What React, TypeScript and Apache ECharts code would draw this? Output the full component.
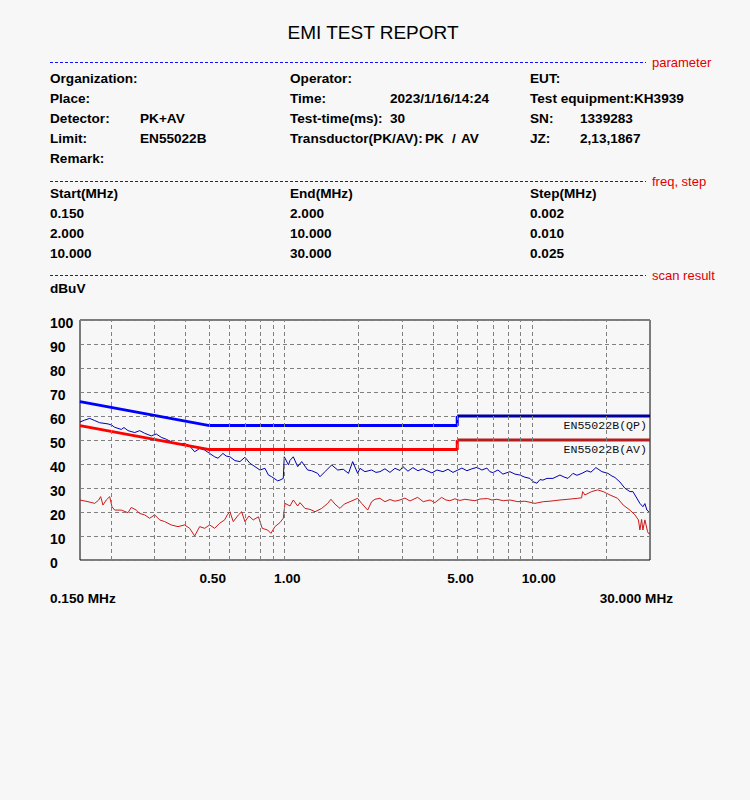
import React, { useEffect, useRef } from "react";
import * as echarts from "echarts";

// ---- data (frequency in MHz, level in dBuV) ----
const pkTrace: [number, number][] = [
  [0.15, 57.5], [0.1567, 58.3], [0.1642, 59.0], [0.172, 58.1], [0.1801, 57.2], [0.1946, 56.7], [0.2014, 56.2],
  [0.2071, 55.3], [0.2202, 54.4], [0.2258, 55.2], [0.2343, 53.9], [0.2494, 53.1], [0.2612, 53.9], [0.2736, 52.8],
  [0.2909, 51.7], [0.3048, 52.5], [0.3193, 51.1], [0.3345, 50.3], [0.3559, 48.9], [0.3729, 48.3], [0.3968, 48.6],
  [0.4157, 47.5], [0.4355, 45.1], [0.4562, 46.5], [0.4779, 45.8], [0.5006, 44.4], [0.5244, 43.0], [0.5408, 42.4],
  [0.5664, 44.4], [0.5841, 43.3], [0.6045, 43.0], [0.6332, 41.4], [0.6633, 41.0], [0.6949, 42.8], [0.7279, 40.3],
  [0.7626, 38.9], [0.7988, 37.5], [0.8368, 38.2], [0.8645, 35.4], [0.8905, 34.7], [0.9416, 33.0], [0.9625, 33.3],
  [0.9925, 34.0], [1.0018, 43.0], [1.0417, 39.6], [1.0563, 41.5], [1.0893, 43.0], [1.1347, 38.9], [1.1775, 41.0],
  [1.2451, 37.5], [1.2922, 37.2], [1.3664, 36.1], [1.3959, 34.7], [1.4624, 36.8], [1.5562, 39.6], [1.6455, 37.5],
  [1.7334, 37.8], [1.8192, 36.1], [1.8915, 41.0], [1.9815, 36.1], [2.0242, 38.2], [2.1206, 36.8], [2.2566, 37.5],
  [2.3488, 36.5], [2.4376, 36.8], [2.5536, 38.0], [2.6749, 36.5], [2.8022, 38.2], [2.9354, 37.3], [3.0185, 38.9],
  [3.1623, 37.0], [3.3124, 38.5], [3.4702, 37.2], [3.6349, 38.0], [3.7728, 37.2], [3.9518, 36.3], [4.14, 37.5],
  [4.3772, 36.8], [4.5857, 37.8], [4.8033, 36.5], [5.0322, 37.5], [5.2221, 38.3], [5.4709, 37.2], [5.7307, 38.0],
  [6.0037, 38.6], [6.2886, 37.5], [6.5881, 38.3], [6.7737, 36.8], [6.9654, 36.4], [7.2973, 37.5], [7.6436, 35.8],
  [8.1569, 36.8], [8.5452, 35.8], [8.9511, 35.4], [9.3772, 34.5], [9.8293, 34.0], [10.107, 32.6], [10.491, 32.0],
  [10.785, 33.5], [11.09, 33.3], [11.511, 34.0], [12.17, 34.0], [12.988, 35.4], [13.48, 34.6], [13.992, 34.0],
  [14.656, 36.1], [15.212, 35.3], [15.934, 36.1], [16.693, 37.2], [17.323, 36.6], [18.148, 38.5], [19.188, 36.8],
  [20.29, 36.1], [21.056, 35.0], [21.652, 34.4], [22.68, 32.5], [23.76, 29.9], [24.889, 28.5], [25.593, 28.5],
  [26.074, 27.1], [26.813, 25.0], [27.312, 23.6], [28.085, 22.2], [28.612, 23.5], [29.15, 20.8], [29.696, 20.1],
];

const avTrace: [number, number][] = [
  [0.15, 25.0], [0.1616, 24.3], [0.172, 23.6], [0.1785, 25.0], [0.1818, 26.4], [0.1857, 22.9], [0.1915, 25.0],
  [0.1977, 26.4], [0.2019, 22.2], [0.2071, 20.8], [0.2202, 20.8], [0.2343, 19.7], [0.2416, 21.9], [0.2531, 20.8],
  [0.2612, 19.4], [0.2736, 18.8], [0.2866, 17.4], [0.3003, 18.8], [0.3146, 16.7], [0.3295, 16.0], [0.3504, 14.6],
  [0.3729, 13.9], [0.3968, 14.6], [0.4157, 13.2], [0.4355, 10.0], [0.4562, 13.9], [0.4779, 13.2], [0.5006, 14.6],
  [0.5244, 13.2], [0.5494, 15.3], [0.5755, 16.7], [0.5896, 18.8], [0.6045, 20.1], [0.6233, 16.0], [0.6542, 18.8],
  [0.6739, 20.1], [0.6949, 16.0], [0.7212, 18.3], [0.7506, 16.7], [0.7878, 18.0], [0.8161, 13.2], [0.8581, 12.5],
  [0.8848, 11.1], [0.9183, 13.9], [0.9625, 15.6], [0.9925, 17.4], [1.0083, 23.6], [1.0563, 22.5], [1.0893, 25.0],
  [1.1347, 22.5], [1.1591, 23.9], [1.2143, 21.5], [1.272, 21.1], [1.3325, 20.1], [1.4181, 21.5], [1.4995, 23.6],
  [1.5461, 25.3], [1.6047, 23.3], [1.6809, 21.5], [1.7495, 23.3], [1.8446, 24.3], [1.9815, 25.7], [2.0564, 23.6],
  [2.1744, 20.8], [2.2566, 24.3], [2.327, 25.3], [2.4376, 25.7], [2.5536, 24.3], [2.6749, 25.2], [2.8022, 24.5],
  [2.9354, 25.0], [3.0751, 25.8], [3.2212, 24.6], [3.4602, 26.1], [3.6452, 24.3], [3.879, 25.0], [4.0636, 23.9],
  [4.3244, 26.1], [4.501, 25.0], [4.6711, 24.7], [4.8934, 25.5], [5.1259, 24.8], [5.3699, 25.3], [5.6251, 25.0],
  [5.8929, 24.7], [6.1727, 25.4], [6.6307, 25.6], [6.9008, 25.0], [7.2296, 25.3], [7.6651, 24.7], [8.1569, 25.0],
  [8.7874, 24.3], [9.3772, 24.5], [10.297, 23.6], [11.121, 24.3], [11.835, 24.5], [12.988, 25.0], [13.992, 25.3],
  [15.311, 25.7], [15.889, 25.9], [16.037, 28.5], [16.385, 27.1], [17.436, 28.5], [18.437, 29.2], [19.422, 28.5],
  [20.668, 27.1], [22.202, 25.7], [23.388, 22.9], [24.889, 20.8], [26.074, 18.8], [26.937, 16.7], [27.312, 12.5],
  [27.746, 16.9], [28.085, 12.5], [28.612, 16.7], [29.339, 11.8], [29.56, 11.1], [30.0, 11.0],
];

const qpLimitLow: [number, number][] = [[0.15, 66], [0.5, 56], [5, 56], [5, 60]];
const qpLimitHigh: [number, number][] = [[5, 60], [30, 60]];
const avLimitLow: [number, number][] = [[0.15, 56], [0.5, 46], [5, 46], [5, 50]];
const avLimitHigh: [number, number][] = [[5, 50], [30, 50]];

const gridFreqs = [0.2, 0.3, 0.4, 0.5, 0.6, 0.7, 0.8, 0.9, 1, 2, 3, 4, 5, 6, 7, 8, 9, 10, 20];
const xLabelFreqs = [0.5, 1, 5, 10];
const xLabelTexts = ["0.50", "1.00", "5.00", "10.00"];
const freqMin = 0.15;
const freqMax = 30;
const levelMin = 0;
const levelMax = 100;
const levelStep = 10;

const SANS = '"Liberation Sans", Arial, sans-serif';
const MONO = '"Liberation Mono", "Courier New", monospace';

function txt(x: number, y: number, text: string, font: string, fill = "#000", align = "left") {
  return {
    type: "text",
    x,
    y,
    silent: true,
    style: {
      text,
      font,
      fill,
      align,
      textAlign: align,
      verticalAlign: "middle",
      textVerticalAlign: "middle",
    },
  };
}

function dash(y: number) {
  return {
    type: "line",
    silent: true,
    shape: { x1: 50, y1: y + 0.5, x2: 646, y2: y + 0.5 },
    style: { stroke: "#1010ff", lineWidth: 1, lineDash: [3, 2] },
  };
}

export default function App() {
  const ref = useRef<HTMLDivElement>(null);

  useEffect(() => {
    if (!ref.current) return;
    const chart = echarts.init(ref.current, null, { renderer: "svg" });
    const B14 = `bold 13.6px ${SANS}`;

    chart.setOption({
      animation: false,
      backgroundColor: "#f7f7f7",
      grid: {
        left: 80,
        top: 320,
        width: 570,
        height: 240,
        show: true,
        borderColor: "#000",
        borderWidth: 1,
        backgroundColor: "transparent",
      },
      xAxis: {
        type: "log",
        logBase: 10,
        min: freqMin,
        max: freqMax,
        axisLine: { show: false },
        axisTick: { show: false },
        axisLabel: { show: false },
        splitLine: { show: false },
      },
      yAxis: {
        type: "value",
        min: levelMin,
        max: levelMax,
        interval: levelStep,
        axisLine: { show: false },
        axisTick: { show: false },
        axisLabel: {
          align: "left",
          verticalAlign: "top",
          margin: 30,
          color: "#000",
          fontFamily: SANS,
          fontWeight: "bold",
          fontSize: 14,
          lineHeight: 6,
          padding: [0, 0, 0, 0],
        },
        splitLine: { show: true, lineStyle: { color: "#808080", width: 1, type: [4, 3] } },
      },
      series: [
        {
          type: "line",
          data: [],
          z: 1,
          silent: true,
          markLine: {
            silent: true,
            symbol: ["none", "none"],
            label: { show: false },
            lineStyle: { color: "#808080", width: 1, type: [4, 3] },
            emphasis: { disabled: true },
            data: gridFreqs.map((f) => ({ xAxis: f })),
          },
        },
        {
          type: "line",
          data: avTrace,
          symbol: "none",
          silent: true,
          z: 3,
          lineStyle: { color: "#cc1a1a", width: 1 },
        },
        {
          type: "line",
          data: pkTrace,
          symbol: "none",
          silent: true,
          z: 3,
          lineStyle: { color: "#0000b4", width: 1 },
        },
        { type: "line", data: qpLimitLow, symbol: "none", silent: true, z: 4, lineStyle: { color: "#0000ff", width: 3 } },
        { type: "line", data: qpLimitHigh, symbol: "none", silent: true, z: 4, lineStyle: { color: "#00009c", width: 3 } },
        { type: "line", data: avLimitLow, symbol: "none", silent: true, z: 4, lineStyle: { color: "#ff0000", width: 3 } },
        { type: "line", data: avLimitHigh, symbol: "none", silent: true, z: 4, lineStyle: { color: "#b41e1e", width: 3 } },
      ],
    });

    const toPx = (f: number, v: number) => chart.convertToPixel({ gridIndex: 0 }, [f, v]) as number[];
    const RED = `13px ${SANS}`;

    const graphics: any[] = [
      txt(373, 32, "EMI TEST REPORT", `19px ${SANS}`, "#000", "center"),
      dash(62),
      txt(652, 62, "parameter", RED, "#e00000"),
      txt(50, 78, "Organization:", B14),
      txt(290, 78, "Operator:", B14),
      txt(530, 78, "EUT:", B14),
      txt(50, 98, "Place:", B14),
      txt(290, 98, "Time:", B14),
      txt(390, 98, "2023/1/16/14:24", B14),
      txt(530, 98, "Test equipment:KH3939", B14),
      txt(50, 118, "Detector:", B14),
      txt(140, 118, "PK+AV", B14),
      txt(290, 118, "Test-time(ms):", B14),
      txt(390, 118, "30", B14),
      txt(530, 118, "SN:", B14),
      txt(580, 118, "1339283", B14),
      txt(50, 138, "Limit:", B14),
      txt(140, 138, "EN55022B", B14),
      txt(290, 138, "Transductor(PK/AV):", B14),
      txt(425, 138, "PK", B14),
      txt(452, 138, "/", B14),
      txt(461, 138, "AV", B14),
      txt(530, 138, "JZ:", B14),
      txt(580, 138, "2,13,1867", B14),
      txt(50, 158, "Remark:", B14),
      dash(181),
      txt(652, 181, "freq, step", RED, "#e00000"),
      txt(50, 193, "Start(MHz)", B14),
      txt(290, 193, "End(MHz)", B14),
      txt(530, 193, "Step(MHz)", B14),
      txt(50, 213, "0.150", B14),
      txt(290, 213, "2.000", B14),
      txt(530, 213, "0.002", B14),
      txt(50, 233, "2.000", B14),
      txt(290, 233, "10.000", B14),
      txt(530, 233, "0.010", B14),
      txt(50, 253, "10.000", B14),
      txt(290, 253, "30.000", B14),
      txt(530, 253, "0.025", B14),
      dash(275),
      txt(652, 275, "scan result", RED, "#e00000"),
      txt(50, 288, "dBuV", B14),
      txt(50, 598, "0.150 MHz", B14),
      txt(673, 598, "30.000 MHz", B14, "#000", "right"),
    ];

    xLabelFreqs.forEach((f, i) => {
      const p = toPx(f, levelMin);
      graphics.push(txt(p[0] - 10, p[1] + 18, xLabelTexts[i], B14));
    });

    const qpEnd = toPx(freqMax, qpLimitHigh[1][1]);
    const avEnd = toPx(freqMax, avLimitHigh[1][1]);
    const MONO12 = `11.6px ${MONO}`;
    graphics.push(txt(qpEnd[0] - 3, qpEnd[1] + 9, "EN55022B(QP)", MONO12, "#111", "right"));
    graphics.push(txt(avEnd[0] - 3, avEnd[1] + 9, "EN55022B(AV)", MONO12, "#111", "right"));

    chart.setOption({ graphic: graphics });

    return () => chart.dispose();
  }, []);

  return (
    <div
      ref={ref}
      style={{ position: "absolute", left: 0, top: 0, width: 750, height: 800 }}
    />
  );
}
